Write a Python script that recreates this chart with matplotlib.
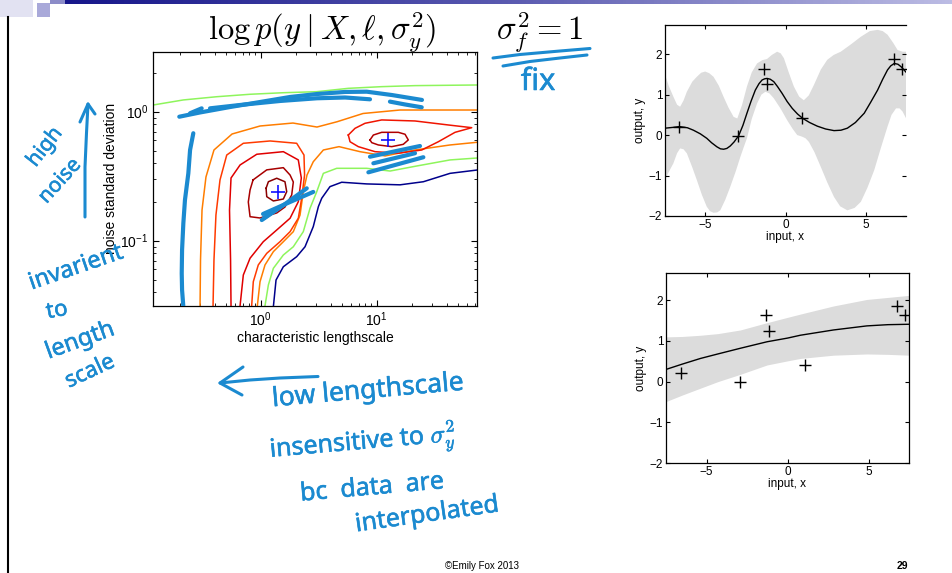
import numpy as np
import matplotlib.pyplot as plt
import matplotlib.patheffects as pe
from matplotlib.patches import Rectangle
from matplotlib.colors import LinearSegmentedColormap

plt.rcParams['font.family'] = ['Liberation Sans', 'DejaVu Sans']
plt.rcParams['mathtext.fontset'] = 'cm'

# observed data, same 7 points in both GP panels
x_obs = [-6.6, -2.93, -1.32, -1.15, 1.05, 6.78, 7.27]
y_obs = [0.21, -0.02, 1.63, 1.25, 0.41, 1.87, 1.64]

# the two optima (lengthscale, noise std)
opt_ell = [1.42, 12.4]
opt_sig = [0.24, 0.60]

# contour lines, in decades: log10(ell), log10(sigma)
navy_lx = [0.109, 0.132, 0.195, 0.310, 0.382, 0.453, 0.497, 0.526, 0.597, 0.698, 0.914, 1.201, 1.402, 1.632, 1.867]
navy_ly = [-1.512, -1.305, -1.202, -1.124, -1.047, -0.891, -0.736, -0.671, -0.581, -0.547, -0.560, -0.567, -0.543, -0.478, -0.452]
navy_top_lx = [-0.93, -0.65]
navy_top_ly = [0.461, 0.461]

green_top_lx = [-0.926, -0.667, -0.379, -0.092, 0.195, 0.483, 0.755, 1.043, 1.330, 1.867]
green_top_ly = [0.052, 0.091, 0.116, 0.135, 0.147, 0.155, 0.181, 0.194, 0.202, 0.207]
green_low_lx = [0.037, 0.066, 0.109, 0.195, 0.281, 0.367, 0.425, 0.483, 0.540, 0.655, 0.914, 1.115, 1.345, 1.632, 1.867]
green_low_ly = [-1.504, -1.343, -1.214, -1.111, -1.047, -0.930, -0.749, -0.620, -0.478, -0.439, -0.439, -0.460, -0.421, -0.374, -0.359]

orange_a_lx = [-0.523, -0.519, -0.506, -0.472, -0.403, -0.247, -0.006, 0.278, 0.485, 0.658, 0.882, 1.201, 1.867]
orange_a_ly = [-1.512, -1.150, -0.762, -0.506, -0.297, -0.173, -0.111, -0.088, -0.119, -0.078, -0.014, 0.013, 0.013]
orange_b_lx = [-0.029, -0.006, 0.037, 0.109, 0.195, 0.281, 0.339, 0.367, 0.399, 0.453, 0.540, 0.675, 0.856, 1.072, 1.330, 1.632, 1.867]
orange_b_ly = [-1.504, -1.318, -1.188, -1.085, -1.008, -0.930, -0.801, -0.620, -0.491, -0.388, -0.297, -0.271, -0.310, -0.343, -0.297, -0.258, -0.237]

red1_lx = [-0.411, -0.403, -0.386, -0.351, -0.293, -0.150, 0.081, 0.310, 0.373, 0.378, 0.353, 0.324, 0.253, 0.166, 0.052, -0.021, -0.064, -0.078]
red1_ly = [-1.504, -1.150, -0.801, -0.529, -0.336, -0.245, -0.227, -0.245, -0.336, -0.491, -0.671, -0.826, -0.930, -1.008, -1.098, -1.188, -1.318, -1.504]

red2_lx = [-0.256, -0.260, -0.269, -0.256, -0.178, -0.034, 0.195, 0.324, 0.350, 0.324, 0.253, 0.138, 0.022, -0.092, -0.150, -0.178]
red2_ly = [-1.504, -1.150, -0.762, -0.514, -0.413, -0.330, -0.310, -0.374, -0.514, -0.698, -0.826, -0.917, -1.008, -1.136, -1.266, -1.504]

red3_lx = [-0.066, 0.052, 0.195, 0.253, 0.281, 0.267, 0.209, 0.138, -0.006, -0.092, -0.107, -0.092, -0.066]
red3_ly = [-0.529, -0.451, -0.434, -0.491, -0.545, -0.646, -0.739, -0.785, -0.824, -0.814, -0.700, -0.607, -0.529]

red4_lx = [0.046, 0.066, 0.138, 0.209, 0.224, 0.195, 0.109, 0.052, 0.046]
red4_ly = [-0.594, -0.543, -0.516, -0.543, -0.620, -0.677, -0.692, -0.659, -0.594]

right_outer_lx = [0.755, 0.813, 0.899, 1.043, 1.330, 1.617, 1.819, 1.675, 1.531, 1.388, 1.186, 0.985, 0.841, 0.770, 0.755]
right_outer_ly = [-0.181, -0.129, -0.090, -0.064, -0.072, -0.103, -0.124, -0.160, -0.233, -0.297, -0.322, -0.310, -0.271, -0.233, -0.181]
right_inner_lx = [0.942, 0.971, 1.043, 1.186, 1.244, 1.272, 1.229, 1.129, 1.014, 0.957, 0.942]
right_inner_ly = [-0.219, -0.181, -0.160, -0.160, -0.175, -0.219, -0.253, -0.271, -0.258, -0.240, -0.219]

# GP fit, short lengthscale (top panel)
gp1_x = [-7.5, -7.0, -6.6, -6.1, -5.73, -5.3, -4.9, -4.6, -4.27, -4.05, -3.85, -3.65, -3.44, -3.2, -2.92,
         -2.65, -2.4, -2.15, -1.88, -1.65, -1.46, -1.3, -1.15, -0.95, -0.73, -0.5, -0.21, 0.1, 0.42, 0.75,
         1.08, 1.5, 1.98, 2.5, 3.02, 3.45, 3.85, 4.35, 4.9, 5.3, 5.73, 6.05, 6.35, 6.55, 6.77, 7.0, 7.19, 7.4, 7.56]
gp1_mean = [0.17, 0.19, 0.21, 0.18, 0.12, 0.03, -0.08, -0.19, -0.29, -0.34, -0.35, -0.33, -0.27, -0.17, -0.02,
            0.24, 0.54, 0.83, 1.11, 1.27, 1.36, 1.39, 1.40, 1.38, 1.32, 1.20, 1.03, 0.83, 0.66, 0.52,
            0.41, 0.31, 0.22, 0.15, 0.11, 0.12, 0.17, 0.31, 0.54, 0.81, 1.11, 1.38, 1.61, 1.71, 1.77, 1.75, 1.69, 1.60, 1.53]
gp1_up_x = [-7.5, -7.25, -6.98, -6.75, -6.56, -6.35, -6.14, -5.8, -5.52, -5.25, -5.0, -4.75, -4.48, -4.15, -3.86,
            -3.55, -3.23, -3.0, -2.7, -2.4, -2.1, -1.77, -1.45, -1.15, -0.85, -0.52, -0.3, -0.1, 0.2, 0.52,
            0.85, 1.14, 1.45, 1.77, 2.2, 2.6, 3.0, 3.44, 4.1, 4.69, 5.25, 5.73, 6.05, 6.35, 6.7, 6.98, 7.3, 7.56]
gp1_up_y = [1.49, 1.20, 0.95, 0.75, 0.70, 0.85, 1.07, 1.32, 1.44, 1.54, 1.57, 1.53, 1.44, 1.22, 0.95,
            0.68, 0.45, 0.41, 0.75, 1.20, 1.55, 1.77, 1.85, 1.88, 1.98, 2.06, 2.02, 1.90, 1.55, 1.20,
            0.95, 0.86, 0.98, 1.24, 1.62, 1.86, 1.98, 2.06, 2.25, 2.43, 2.57, 2.60, 2.57, 2.48, 2.28, 2.10, 2.06, 2.06]
gp1_lo_x = [-7.5, -7.25, -6.98, -6.75, -6.56, -6.35, -6.14, -5.8, -5.52, -5.2, -4.9, -4.7, -4.48, -4.25, -4.06,
            -3.75, -3.44, -3.1, -2.81, -2.6, -2.4, -2.1, -1.77, -1.5, -1.25, -1.0, -0.73, -0.3, 0.1, 0.45,
            0.73, 1.04, 1.25, 1.46, 1.8, 2.19, 2.6, 3.02, 3.4, 3.85, 4.3, 4.69, 5.1, 5.52, 5.95, 6.35, 6.6,
            6.88, 7.1, 7.29, 7.56]
gp1_lo_y = [-1.11, -0.90, -0.70, -0.45, -0.33, -0.35, -0.45, -0.80, -1.11, -1.48, -1.77, -1.88, -1.92, -1.91, -1.86,
            -1.60, -1.28, -0.90, -0.54, -0.30, -0.08, 0.40, 0.78, 1.00, 1.07, 1.03, 0.91, 0.65, 0.37, 0.15,
            0.0, -0.04, -0.08, -0.17, -0.42, -0.78, -1.17, -1.53, -1.76, -1.86, -1.80, -1.65, -1.30, -0.87, -0.30, 0.21, 0.50,
            0.66, 0.66, 0.58, 0.37]

# GP fit, long lengthscale (bottom panel)
gp2_x = [-7.5, -6.5, -5.37, -4.3, -2.91, -1.26, 0.0, 0.79, 2.84, 4.90, 6.2, 7.5]
gp2_mean = [0.30, 0.43, 0.57, 0.68, 0.82, 0.98, 1.07, 1.14, 1.27, 1.37, 1.40, 1.41]
gp2_up = [1.10, 1.11, 1.14, 1.18, 1.27, 1.45, 1.58, 1.66, 1.86, 2.02, 2.07, 2.12]
gp2_lo = [-0.49, -0.33, -0.16, 0.0, 0.18, 0.41, 0.51, 0.57, 0.65, 0.68, 0.67, 0.65]

W, H = 952, 573
ink = '#1b8ad0'

fig = plt.figure(figsize=(9.52, 5.73), dpi=100)

def box(l, t, r, b):
    return [l / W, 1 - b / H, (r - l) / W, (b - t) / H]

# ---- contour panel ----
ax = fig.add_axes(box(153.3, 51.7, 477.3, 305.7))
ax.set_xscale('log')
ax.set_yscale('log')

def dec(a):
    return 10 ** np.array(a)

lines = [
    (navy_lx, navy_ly, '#00008b'),
    (navy_top_lx, navy_top_ly, '#00008b'),
    (green_top_lx, green_top_ly, '#8ef55c'),
    (green_low_lx, green_low_ly, '#8ef55c'),
    (orange_a_lx, orange_a_ly, '#ff7d00'),
    (orange_b_lx, orange_b_ly, '#ff7d00'),
    (red1_lx, red1_ly, '#ff3a00'),
    (red2_lx, red2_ly, '#e00000'),
    (red3_lx, red3_ly, '#a80000'),
    (red4_lx, red4_ly, '#8a0000'),
    (right_outer_lx, right_outer_ly, '#f01400'),
    (right_inner_lx, right_inner_ly, '#b00000'),
]
for lx, ly, c in lines:
    ax.plot(dec(lx), dec(ly), color=c, lw=1.1)

ax.plot(opt_ell, opt_sig, '+', color='#1010ff', ms=10, mew=1.2)

# hand drawn strokes over the contours
strokes = [
    ([-0.581, -0.609, -0.624, -0.653, -0.667, -0.678, -0.681, -0.678, -0.667],
     [-0.167, -0.297, -0.478, -0.684, -0.865, -1.072, -1.253, -1.382, -1.512]),
    ([-0.702, -0.523, -0.265, -0.006, 0.253, 0.485, 0.727, 0.914, 1.132, 1.390],
     [-0.039, -0.006, 0.036, 0.075, 0.114, 0.137, 0.153, 0.155, 0.129, 0.091]),
    ([-0.437, -0.178, 0.166, 0.485, 0.727, 0.942],
     [0.026, 0.052, 0.083, 0.104, 0.110, 0.096]),
    ([-0.609, -0.509], [-0.012, 0.026]),
    ([1.114, 1.244, 1.388], [0.078, 0.056, 0.034]),
    ([0.942, 1.158, 1.373], [-0.349, -0.307, -0.266]),
    ([0.971, 1.330], [-0.400, -0.322]),
    ([0.928, 1.402], [-0.470, -0.353]),
    ([0.009, 0.209, 0.397], [-0.840, -0.716, -0.594]),
    ([0.020, 0.253, 0.453], [-0.793, -0.700, -0.622]),
    ([0.028, 0.166], [-0.824, -0.739]),
]
for sx, sy in strokes:
    ax.plot(dec(sx), dec(sy), color=ink, lw=3.0, solid_capstyle='round', zorder=5)

ax.set_xlim(10 ** -0.926, 10 ** 1.867)
ax.set_ylim(10 ** -1.504, 10 ** 0.465)
ax.tick_params(which='both', direction='in', top=True, right=True, labelsize=10)
ax.tick_params(which='major', length=4)
ax.tick_params(which='minor', length=2.5)
ax.set_xlabel('characteristic lengthscale', fontsize=10, labelpad=1)
ax.set_ylabel('noise standard deviation', fontsize=10, labelpad=2)
for s in ax.spines.values():
    s.set_linewidth(0.9)

# ---- GP panels ----
def gp_axes(a, ymax):
    a.set_xlim(-7.5, 7.5)
    a.set_ylim(-2, ymax)
    a.set_xticks([-5, 0, 5])
    a.set_yticks([-2, -1, 0, 1, 2])
    a.tick_params(direction='in', top=True, right=True, labelsize=8.5, length=3, pad=2)
    a.set_xlabel('input, x', fontsize=8.5, labelpad=0)
    a.set_ylabel('output, y', fontsize=8.5, labelpad=2)
    for s in a.spines.values():
        s.set_linewidth(0.9)

a1 = fig.add_axes(box(665, 25, 906, 216))
a1.fill(np.concatenate([gp1_up_x, gp1_lo_x[::-1]]),
        np.concatenate([gp1_up_y, gp1_lo_y[::-1]]), color='#dcdcdc', lw=0)
a1.plot(gp1_x, gp1_mean, color='black', lw=1)
a1.plot(x_obs, y_obs, '+', color='black', ms=8, mew=1)
gp_axes(a1, 2.72)
a1.spines['right'].set_visible(False)

a2 = fig.add_axes(box(666, 273, 909, 463))
a2.fill_between(gp2_x, gp2_lo, gp2_up, color='#dcdcdc', lw=0)
a2.plot(gp2_x, gp2_mean, color='black', lw=1)
a2.plot(x_obs, y_obs, '+', color='black', ms=8, mew=1)
gp_axes(a2, 2.67)

# ---- slide decorations and handwriting ----
d = fig.add_axes([0, 0, 1, 1], zorder=10)
d.patch.set_alpha(0)
d.axis('off')

band = LinearSegmentedColormap.from_list('band', ['#16168a', '#5a5ab0', '#bcbce4'])
d.imshow(np.linspace(0, 1, 256)[None, :], cmap=band, aspect='auto',
         extent=(65, W, 4.5, 0))
d.add_patch(Rectangle((0, 0), 33, 17, color='#e2e2f2', lw=0))
d.add_patch(Rectangle((37, 3), 13, 14, color='#a9a9d9', lw=0))
d.add_patch(Rectangle((50, 0), 15, 4, color='#8c8cc8', lw=0))
d.plot([7.5, 7.5], [17, H], color='black', lw=1.5)
d.set_xlim(0, W)
d.set_ylim(H, 0)

d.text(322, 40, r'$\log p(y \mid X, \ell, \sigma_y^2)$', fontsize=23.5,
       ha='center', va='baseline')
d.text(540, 40, r'$\sigma_f^2 = 1$', fontsize=23.5, ha='center', va='baseline')

pen = dict(color=ink, lw=2.2, solid_capstyle='round', solid_joinstyle='round')
d.plot([493, 520, 560, 590], [58, 54.5, 51, 48.5], **pen)
d.plot([503, 530, 560, 587], [66, 61.5, 58, 55], **pen)
d.plot([85, 85, 86.5, 88], [217, 167, 133, 104], **pen)
d.plot([80, 88, 95], [122, 104, 114], **pen)
d.plot([318, 280, 250, 220], [376.5, 378, 380, 383], **pen)
d.plot([243, 220, 242], [367, 383, 395], **pen)

thick = [pe.withStroke(linewidth=0.4, foreground=ink)]
hand = dict(color=ink, family=['Noto Sans', 'DejaVu Sans'], ha='center', va='center',
            path_effects=thick)
d.text(538, 82, 'fix', fontsize=22, **hand)
d.text(45, 147, 'high', fontsize=15, rotation=52, **hand)
d.text(60, 181, 'noise', fontsize=15, rotation=48, **hand)
d.text(76, 268, 'invarient', fontsize=17, rotation=19, **hand)
d.text(57, 311, 'to', fontsize=16, rotation=10, **hand)
d.text(80, 341, 'length', fontsize=17, rotation=20, **hand)
d.text(90, 372, 'scale', fontsize=16, rotation=25, **hand)
d.text(368, 391, 'low lengthscale', fontsize=19, rotation=5, **hand)
d.text(363, 443, r'insensitive to $\sigma_y^2$', fontsize=18, rotation=5, **hand)
d.text(372, 488, 'bc  data  are', fontsize=18, rotation=5, **hand)
d.text(427, 515, 'interpolated', fontsize=18, rotation=8, **hand)

d.text(482, 566, '\u00a9Emily Fox 2013', fontsize=7, ha='center', va='center')
d.text(902, 566, '29', fontsize=7.5, fontweight='bold', ha='center', va='center')

fig.savefig('out.png', dpi=100)
